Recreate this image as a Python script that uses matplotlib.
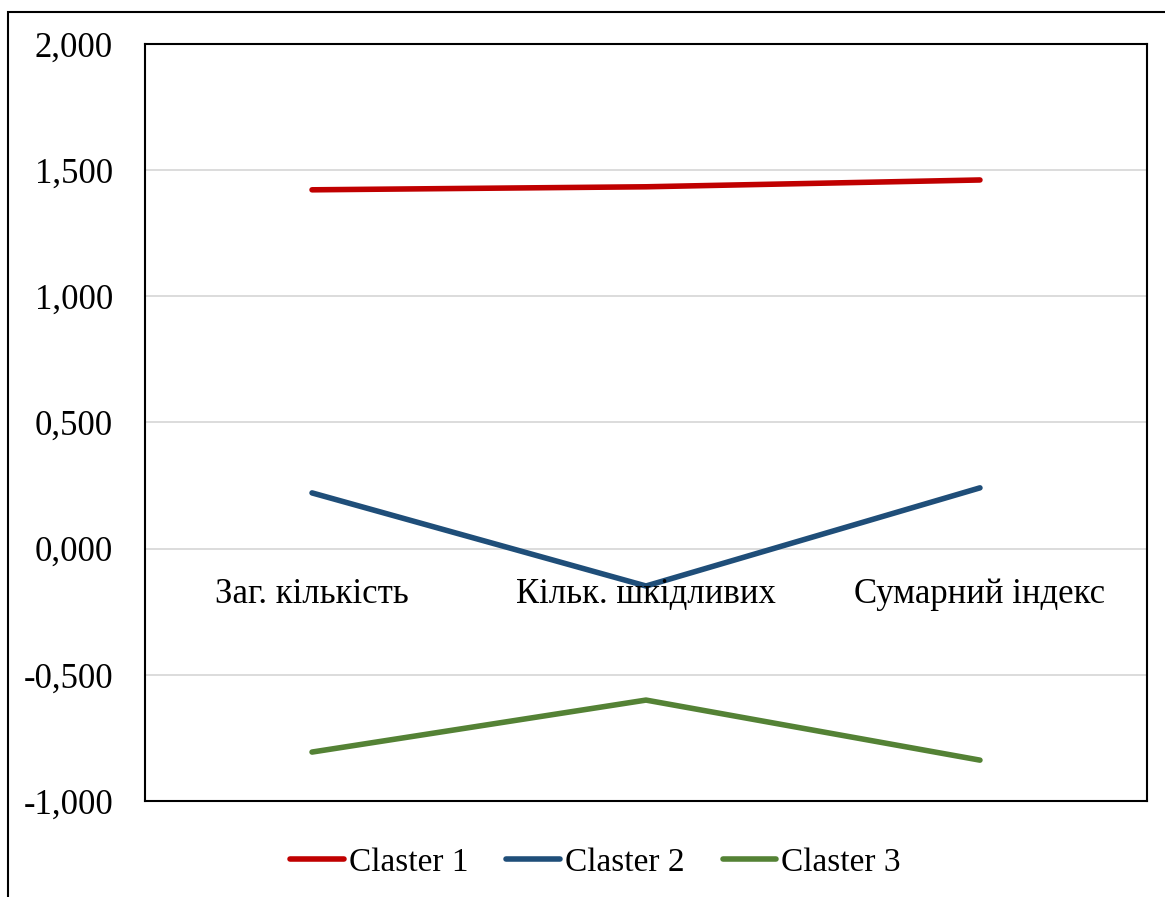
import matplotlib.pyplot as plt
from matplotlib.patches import Rectangle
from matplotlib.ticker import FuncFormatter

plt.rcParams['font.family'] = ['Liberation Serif', 'DejaVu Serif']

# Cluster profiles
categories = ["Заг. кількість", "Кільк. шкідливих", "Сумарний індекс"]
claster1 = [1.422, 1.434, 1.461]
claster2 = [0.221, -0.148, 0.241]
claster3 = [-0.806, -0.600, -0.838]
series_names = ["Claster 1", "Claster 2", "Claster 3"]
colors = ["#C00000", "#1F4E79", "#548235"]

fig = plt.figure(figsize=(11.65, 8.97), dpi=100)
ax = fig.add_axes([0.1245, 0.107, 0.860, 0.844])

x = list(range(len(categories)))
for vals, name, c in zip([claster1, claster2, claster3], series_names, colors):
    ax.plot(x, vals, color=c, lw=4, solid_capstyle='round', label=name, zorder=3)

ax.set_xlim(-0.5, len(categories) - 0.5)
ax.set_ylim(-1, 2)
ax.set_yticks([-1, -0.5, 0, 0.5, 1, 1.5, 2])
ax.yaxis.set_major_formatter(FuncFormatter(lambda v, p: f"{v:.3f}".replace(".", ",")))
ax.tick_params(axis='y', length=0, pad=23, labelsize=25)
ax.set_xticks([])
ax.grid(axis='y', color='#d9d9d9', lw=1.3, zorder=0)

for s in ax.spines.values():
    s.set_color('black')
    s.set_linewidth(1.5)

# category labels sit just under the zero line
for i, cat in enumerate(categories):
    ax.annotate(cat, (i, 0), xytext=(0, -33), textcoords='offset points',
                ha='center', va='center', fontsize=25)

fig.legend(loc='center', bbox_to_anchor=(0.511, 0.038), ncol=3, frameon=False,
           fontsize=24, handlelength=1.6, handletextpad=0.15, columnspacing=1.15)

# outer chart frame
fig.patches.append(Rectangle((8 / 1165, -0.5), 2, 0.5 + 1 - 12 / 897,
                             transform=fig.transFigure, fill=False,
                             edgecolor='black', lw=1.5))

fig.savefig("out.png", dpi=100)
